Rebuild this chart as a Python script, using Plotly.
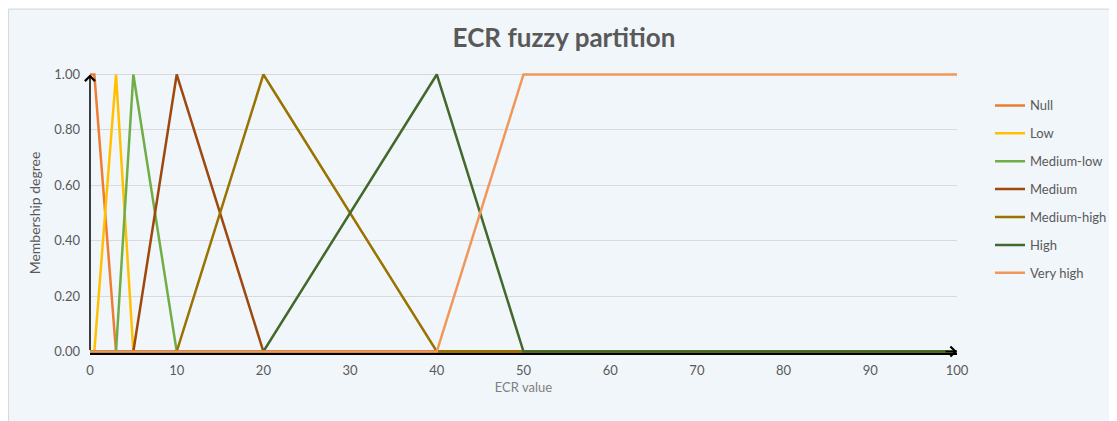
import plotly.graph_objects as go

series_names = ["Null", "Low", "Medium-low", "Medium", "Medium-high", "High", "Very high"]
series_x = [
    [0, 0.5, 3, 100],
    [0, 0.5, 3, 5, 100],
    [0, 3, 5, 10, 100],
    [0, 5, 10, 20, 100],
    [0, 10, 20, 40, 100],
    [0, 20, 40, 50, 100],
    [0, 40, 50, 100],
]
series_y = [
    [1, 1, 0, 0],
    [0, 0, 1, 0, 0],
    [0, 0, 1, 0, 0],
    [0, 0, 1, 0, 0],
    [0, 0, 1, 0, 0],
    [0, 0, 1, 0, 0],
    [0, 0, 1, 1],
]
colors = ["#ED7D31", "#FFC000", "#70AD47", "#9E480E", "#997300", "#43682B", "#F1975A"]

x_ticks = list(range(0, 101, 10))
y_ticks = [0, 0.2, 0.4, 0.6, 0.8, 1.0]

# the page body adds an 8px offset, so the figure is 8px smaller
W, H = 1109, 413
pad = 1.5  # px of padding so lines at 0 and 1 are not clipped
L, R, T, B = 82, 160, 66 - pad, 69 - pad
pw, ph = W - L - R, H - T - B
ypad = pad / (ph - 2 * pad)

fig = go.Figure()
for i, name in enumerate(series_names):
    fig.add_trace(go.Scatter(
        x=series_x[i], y=series_y[i], mode="lines", name=name,
        line=dict(color=colors[i], width=2.5),
        legendgroup=name,
    ))

font_family = "Lato, 'Open Sans', sans-serif"
gray = "#595959"

fig.update_layout(
    width=W, height=H,
    margin=dict(l=L, r=R, t=T, b=B, autoexpand=False),
    paper_bgcolor="#F1F6FA",
    plot_bgcolor="rgba(0,0,0,0)",
    font=dict(family=font_family, size=13, color=gray),
    title=dict(text="<b>ECR fuzzy partition</b>", x=556 / W, xref="container",
               y=1 - 30 / H, yanchor="middle", xanchor="center",
               font=dict(size=26, color=gray, family=font_family)),
    legend=dict(x=(982 - L) / pw, y=1 - (82 - T) / ph, xanchor="left", yanchor="top",
                bgcolor="rgba(0,0,0,0)", tracegroupgap=8,
                font=dict(size=13, color=gray, family=font_family)),
    showlegend=True,
)
fig.update_xaxes(
    range=[0, 100], tickvals=x_ticks, ticktext=[str(v) for v in x_ticks],
    showgrid=False, zeroline=False, showline=True, linecolor="black", linewidth=1.5,
    layer="below traces", ticks="", ticklabelstandoff=5, automargin=False,
    title=dict(text="ECR value", font=dict(size=13, color="#7F7F7F"), standoff=6),
    tickfont=dict(size=13, color=gray),
)
fig.update_yaxes(
    range=[-ypad, 1 + ypad], tickvals=y_ticks, tickformat=".2f",
    showgrid=True, gridcolor="#D9D9D9", gridwidth=1, zeroline=False,
    showline=False, ticks="", ticklabelstandoff=9, automargin=False,
    title=dict(text="Membership degree", font=dict(size=14, color=gray), standoff=10),
    tickfont=dict(size=13, color=gray),
)

# chart area border
fig.add_shape(type="rect", xref="paper", yref="paper", layer="below",
              x0=(0.5 - L) / pw, x1=(W + 5 - L) / pw,
              y0=1 - (H + 5 - T) / ph, y1=1 - (0.5 - T) / ph,
              fillcolor="rgba(0,0,0,0)", line=dict(color="#D9D9D9", width=1))

# axis arrows
fig.add_annotation(x=0, y=1, ax=0, ay=0, xref="x", yref="y", axref="x", ayref="y",
                   showarrow=True, arrowhead=4, arrowsize=1.3, arrowwidth=1.5,
                   arrowcolor="black", text="")
fig.add_annotation(x=100, y=0, ax=98.5, ay=0, xref="x", yref="y", axref="x", ayref="y",
                   showarrow=True, arrowhead=4, arrowsize=1.3, arrowwidth=1.5,
                   arrowcolor="black", text="")

fig.write_html("out.html")
